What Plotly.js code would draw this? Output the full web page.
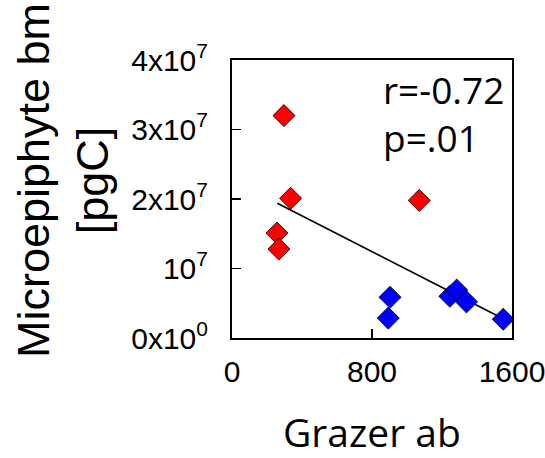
<!DOCTYPE html>
<html>
<head>
<meta charset="utf-8">
<script src="https://cdn.plot.ly/plotly-3.0.1.min.js"></script>
<style>html,body{margin:0;padding:0;background:#fff;}#chart{width:545px;height:458px;}</style>
</head>
<body>
<div id="chart"></div>
<script>
// Data
const redX = [297, 335, 257, 268, 1070];
const redY = [3.20e7, 2.01e7, 1.51e7, 1.28e7, 1.98e7];
const blueX = [903, 893, 1245, 1284, 1340, 1550];
const blueY = [0.586e7, 0.286e7, 0.60e7, 0.69e7, 0.52e7, 0.27e7];
const fitX = [259, 1550];
const fitY = [1.94e7, 0.276e7];
const yTickVals = [0, 1e7, 2e7, 3e7, 4e7];
const yTickText = ["0x10<sup>0</sup>", "10<sup>7</sup>", "2x10<sup>7</sup>", "3x10<sup>7</sup>", "4x10<sup>7</sup>"];
const xTickVals = [0, 800, 1600];
const xTickText = ["0", "800", "1600"];
const statLines = ["r=-0.72", "p=.01"];

const markerStyle = (c) => ({symbol: 'diamond', size: 17, color: c, line: {color: '#000', width: 0.8}});

const traces = [
  {x: fitX, y: fitY, mode: 'lines', line: {color: '#000', width: 1.6}, hoverinfo: 'skip', showlegend: false},
  {x: redX, y: redY, mode: 'markers', marker: markerStyle('#ff0000'), showlegend: false},
  {x: blueX, y: blueY, mode: 'markers', marker: markerStyle('#0000ff'), showlegend: false}
];

const layout = {
  width: 545, height: 458,
  margin: {l: 232, r: 33, t: 60, b: 120},
  paper_bgcolor: '#fff', plot_bgcolor: '#fff',
  showlegend: false,
  xaxis: {
    range: [0, 1600], tickvals: xTickVals, ticktext: xTickText,
    ticks: 'inside', ticklen: 9, tickwidth: 1.5, tickcolor: '#000',
    showline: true, linecolor: '#000', linewidth: 2, mirror: true,
    showgrid: false, zeroline: false,
    tickfont: {family: 'Liberation Sans, Arial, sans-serif', size: 30, color: '#000'},
    ticklabelstandoff: 6, ticklabeloverflow: 'allow'
  },
  yaxis: {
    range: [0, 4e7], tickvals: yTickVals, ticktext: yTickText,
    ticks: 'inside', ticklen: 9, tickwidth: 1.5, tickcolor: '#000',
    showline: true, linecolor: '#000', linewidth: 2, mirror: true,
    showgrid: false, zeroline: false,
    tickfont: {family: 'Liberation Sans, Arial, sans-serif', size: 30, color: '#000'},
    ticklabelstandoff: 16, ticklabeloverflow: 'allow'
  },
  annotations: [
    {text: statLines[0], xref: 'paper', yref: 'paper', x: 0.532, y: 0.895, xanchor: 'left', yanchor: 'middle', showarrow: false,
     font: {family: 'Open Sans, sans-serif', size: 37, color: '#000'}},
    {text: statLines[1], xref: 'paper', yref: 'paper', x: 0.532, y: 0.72, xanchor: 'left', yanchor: 'middle', showarrow: false,
     font: {family: 'Open Sans, sans-serif', size: 37, color: '#000'}},
    {text: 'Microepiphyte bm<br>[pgC]', xref: 'paper', yref: 'paper', x: -0.603, y: 0.565, xanchor: 'center', yanchor: 'middle',
     textangle: -90, showarrow: false, font: {family: 'Liberation Sans, Arial, sans-serif', size: 45, color: '#000'}},
    {text: 'Grazer ab', xref: 'paper', yref: 'paper', x: 0.5, y: -0.338, xanchor: 'center', yanchor: 'middle', showarrow: false,
     font: {family: 'Open Sans, sans-serif', size: 39, color: '#000'}}
  ]
};

Plotly.newPlot('chart', traces, layout, {displayModeBar: false, staticPlot: true});
</script>
</body>
</html>
